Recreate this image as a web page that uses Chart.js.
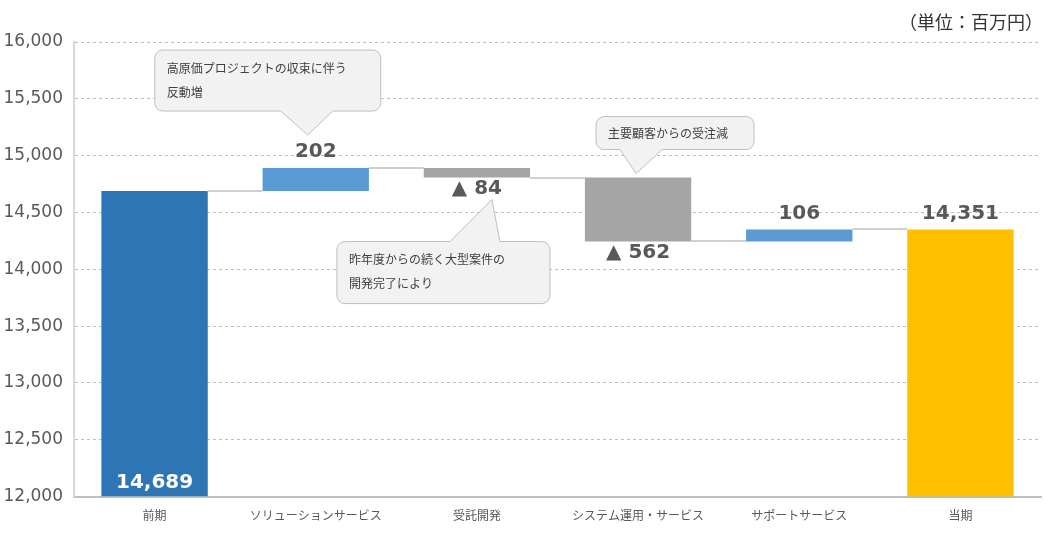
<!DOCTYPE html>
<html>
<head>
<meta charset="utf-8">
<script src="https://cdn.jsdelivr.net/npm/chart.js@4"></script>
<style>
  html, body { margin: 0; padding: 0; background: #fff; }
  #wrap { position: relative; width: 1063px; height: 533px; }
  #unit { position: absolute; right: 20px; top: 8px; font: 18px "Noto Sans CJK JP"; color: #333; }
</style>
</head>
<body>
<div id="wrap">
  <div id="unit">（単位：百万円）</div>
  <canvas id="c" width="1063" height="533"></canvas>
</div>
<script>
const categories = ['前期', 'ソリューションサービス', '受託開発', 'システム運用・サービス', 'サポートサービス', '当期'];
const amounts = [14689, 202, -84, -562, 106, 14351];
const kinds = ['total', 'delta', 'delta', 'delta', 'delta', 'total'];
const yTicks = [12000, 12500, 13000, 13500, 14000, 14500, 15000, 15500, 16000];
const notes = [
  { index: 1, lines: ['高原価プロジェクトの収束に伴う', '反動増'] },
  { index: 2, lines: ['昨年度からの続く大型案件の', '開発完了により'] },
  { index: 3, lines: ['主要顧客からの受注減'] }
];

const MIN_Y = 12000;
let level = 0;
const ranges = [];
const colors = [];
amounts.forEach((v, i) => {
  if (kinds[i] === 'total') {
    ranges.push([MIN_Y, v]);
    level = v;
    colors.push(i === 0 ? '#2E75B6' : '#FFC000');
  } else {
    ranges.push([level, level + v]);
    level += v;
    colors.push(v >= 0 ? '#5B9BD5' : '#A5A5A5');
  }
});

const fmt = n => n.toLocaleString('en-US');
const NUM_FONT = '"DejaVu Sans", "Noto Sans CJK JP", sans-serif';
const JP_FONT = '"Noto Sans CJK JP", sans-serif';

const waterfallDecor = {
  id: 'waterfallDecor',
  afterDatasetsDraw(chart) {
    const ctx = chart.ctx;
    const meta = chart.getDatasetMeta(0);
    const y = chart.scales.y;
    ctx.save();
    // connectors
    ctx.strokeStyle = '#D0D0D0';
    ctx.lineWidth = 2;
    for (let i = 0; i < ranges.length - 1; i++) {
      const a = meta.data[i], b = meta.data[i + 1];
      const py = Math.round(y.getPixelForValue(ranges[i][1]));
      ctx.beginPath();
      ctx.moveTo(a.x + a.width / 2, py);
      ctx.lineTo(b.x - b.width / 2, py);
      ctx.stroke();
    }
    // value labels
    ctx.font = 'bold 20px ' + NUM_FONT;
    ctx.textAlign = 'center';
    ctx.textBaseline = 'middle';
    amounts.forEach((v, i) => {
      const bar = meta.data[i];
      const top = y.getPixelForValue(Math.max(...ranges[i]));
      const bot = y.getPixelForValue(Math.min(...ranges[i]));
      if (i === 0) {
        ctx.fillStyle = '#fff';
        ctx.fillText(fmt(v), bar.x, bot - 14);
      } else if (v < 0) {
        ctx.fillStyle = '#595959';
        ctx.fillText('▲ ' + fmt(-v), bar.x, bot + 11);
      } else {
        ctx.fillStyle = '#595959';
        ctx.fillText(fmt(v), bar.x, top - 16);
      }
    });
    // callouts
    notes.forEach(n => {
      const bar = meta.data[n.index];
      const r = ranges[n.index];
      let tip, box, base;
      if (n.index === 1) {
        const tp = y.getPixelForValue(Math.max(...r));
        tip = { x: bar.x - 8, y: tp - 33 };
        box = { x: tip.x - 153, y: tip.y - 85, w: 226, h: 61 };
        base = { y: box.y + box.h, x1: tip.x - 27, x2: tip.x + 25 };
      } else if (n.index === 2) {
        const bp = y.getPixelForValue(Math.min(...r));
        tip = { x: bar.x + 15, y: bp + 22 };
        box = { x: tip.x - 155, y: tip.y + 42, w: 213, h: 62 };
        base = { y: box.y, x1: tip.x - 42, x2: tip.x + 8 };
      } else {
        const tp = y.getPixelForValue(Math.max(...r));
        tip = { x: bar.x - 2, y: tp - 4 };
        box = { x: tip.x - 40, y: tip.y - 57, w: 158, h: 33 };
        base = { y: box.y + box.h, x1: tip.x - 16, x2: tip.x + 26 };
      }
      const rad = 8;
      const { x, y: by, w, h } = box;
      const below = base.y === by;
      ctx.beginPath();
      ctx.moveTo(x + rad, by);
      if (below) {
        ctx.lineTo(base.x1, by); ctx.lineTo(tip.x, tip.y); ctx.lineTo(base.x2, by);
      }
      ctx.lineTo(x + w - rad, by);
      ctx.arcTo(x + w, by, x + w, by + rad, rad);
      ctx.lineTo(x + w, by + h - rad);
      ctx.arcTo(x + w, by + h, x + w - rad, by + h, rad);
      if (!below) {
        ctx.lineTo(base.x2, by + h); ctx.lineTo(tip.x, tip.y); ctx.lineTo(base.x1, by + h);
      }
      ctx.lineTo(x + rad, by + h);
      ctx.arcTo(x, by + h, x, by + h - rad, rad);
      ctx.lineTo(x, by + rad);
      ctx.arcTo(x, by, x + rad, by, rad);
      ctx.closePath();
      ctx.fillStyle = '#F2F2F2';
      ctx.fill();
      ctx.strokeStyle = '#BFBFBF';
      ctx.lineWidth = 1;
      ctx.stroke();
      ctx.fillStyle = '#404040';
      ctx.font = '12px ' + JP_FONT;
      ctx.textAlign = 'left';
      ctx.textBaseline = 'middle';
      n.lines.forEach((t, k) => {
        ctx.fillText(t, x + 12, by + (n.lines.length === 1 ? h / 2 : 18 + k * 24));
      });
    });
    ctx.restore();
  }
};

new Chart(document.getElementById('c'), {
  type: 'bar',
  data: {
    labels: categories,
    datasets: [{
      data: ranges,
      backgroundColor: colors,
      borderSkipped: false,
      borderWidth: 0,
      categoryPercentage: 1,
      barPercentage: 0.66
    }]
  },
  options: {
    responsive: false,
    animation: false,
    layout: { padding: { top: 42, right: 22, left: 2, bottom: 6 } },
    plugins: { legend: { display: false }, tooltip: { enabled: false } },
    scales: {
      x: {
        grid: { display: false },
        border: { color: '#BFBFBF', width: 2 },
        ticks: { color: '#595959', font: { family: JP_FONT, size: 12 }, padding: 4, maxRotation: 0, autoSkip: false }
      },
      y: {
        min: MIN_Y,
        max: 16000,
        afterBuildTicks: s => { s.ticks = yTicks.map(v => ({ value: v })); },
        afterFit: s => { s.width = 72; },
        ticks: { color: '#595959', font: { family: NUM_FONT, size: 17 }, callback: v => fmt(v), padding: 11 },
        grid: { color: '#BFBFBF', tickLength: 0, lineWidth: 1 },
        border: { color: '#D9D9D9', width: 2, dash: [3, 3] }
      }
    }
  },
  plugins: [waterfallDecor]
});
</script>
</body>
</html>
